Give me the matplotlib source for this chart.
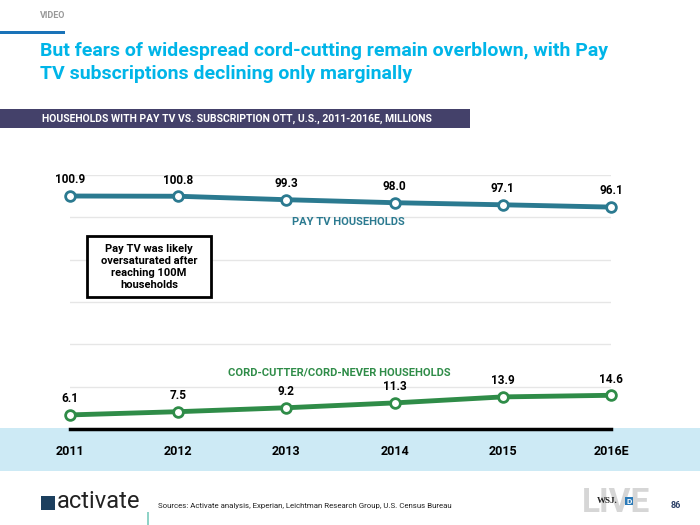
import matplotlib
matplotlib.use("Agg")
import matplotlib.pyplot as plt
import numpy as np
from matplotlib.patches import Rectangle

years = ["2011", "2012", "2013", "2014", "2015", "2016E"]
pay_tv = [100.9, 100.8, 99.3, 98.0, 97.1, 96.1]
cord_cutters = [6.1, 7.5, 9.2, 11.3, 13.9, 14.6]

FONT = ['Roboto', 'DejaVu Sans']
plt.rcParams['font.family'] = FONT

W, H = 700, 525
fig = plt.figure(figsize=(7, 5.25), dpi=100)
fig.patch.set_facecolor('white')

def fx(px):
    return px / W

def fy(py):
    return 1 - py / H

# light blue band behind x labels
fig.patches.append(Rectangle((0, fy(471)), 1, (471 - 428) / H, transform=fig.transFigure,
                             facecolor='#cdeaf5', edgecolor='none', zorder=-2))

# header decorations
fig.text(fx(40), fy(15), "VIDEO", fontsize=6.5, color='#999999', fontweight='bold', va='center')
fig.patches.append(Rectangle((0, fy(34)), fx(65), 3 / H, transform=fig.transFigure,
                             facecolor='#1a73b8', edgecolor='none'))
fig.text(fx(40), fy(51), "But fears of widespread cord-cutting remain overblown, with Pay",
         fontsize=14, color='#00b5e8', fontweight='bold', va='center')
fig.text(fx(40), fy(74), "TV subscriptions declining only marginally",
         fontsize=14, color='#00b5e8', fontweight='bold', va='center')
fig.patches.append(Rectangle((0, fy(128)), fx(470), 19 / H, transform=fig.transFigure,
                             facecolor='#44416a', edgecolor='none'))
fig.text(fx(42), fy(119), "HOUSEHOLDS WITH PAY TV VS. SUBSCRIPTION OTT, U.S., 2011-2016E, MILLIONS",
         fontsize=7.5, color='white', fontweight='bold', va='center')

# chart axes
ax = fig.add_axes([fx(70), fy(429), fx(611) - fx(70), (429 - 175) / H])
ax.set_facecolor('none')
x = np.arange(len(years))
ax.set_xlim(0, len(years) - 1)
ax.set_ylim(0, 110)
ax.set_yticks(np.linspace(0, 110, 7))
ax.yaxis.grid(True, color='#e6e6e6', linewidth=1)
ax.set_axisbelow(True)
for s in ['top', 'right', 'left']:
    ax.spines[s].set_visible(False)
ax.spines['bottom'].set_color('black')
ax.spines['bottom'].set_linewidth(2.5)
ax.tick_params(axis='y', left=False, labelleft=False)
ax.tick_params(axis='x', bottom=False, pad=8)
ax.set_xticks(x)
ax.set_xticklabels(years, fontsize=9, fontweight='bold')

teal = '#2b7a90'
green = '#2f8c48'
ax.plot(x, pay_tv, color=teal, linewidth=3.5, marker='o', markersize=7,
        markerfacecolor='white', markeredgecolor=teal, markeredgewidth=2, clip_on=False, zorder=3)
ax.plot(x, cord_cutters, color=green, linewidth=3.5, marker='o', markersize=7,
        markerfacecolor='white', markeredgecolor=green, markeredgewidth=2, clip_on=False, zorder=3)
for xi, v in zip(x, pay_tv):
    ax.annotate(f"{v:.1f}", (xi, v), xytext=(0, 7), textcoords='offset points',
                ha='center', va='bottom', fontsize=8.5, fontweight='bold')
for xi, v in zip(x, cord_cutters):
    ax.annotate(f"{v:.1f}", (xi, v), xytext=(0, 7), textcoords='offset points',
                ha='center', va='bottom', fontsize=8.5, fontweight='bold')

fig.text(fx(348), fy(222), "PAY TV HOUSEHOLDS", fontsize=8, color=teal,
         fontweight='bold', ha='center', va='center')
fig.text(fx(339), fy(372), "CORD-CUTTER/CORD-NEVER HOUSEHOLDS", fontsize=8, color=green,
         fontweight='bold', ha='center', va='center')

# annotation box
fig.patches.append(Rectangle((fx(87), fy(297)), fx(211) - fx(87), (297 - 236) / H,
                             transform=fig.transFigure, facecolor='white',
                             edgecolor='black', linewidth=2, zorder=5))
fig.text(fx(149), fy(266.5), "Pay TV was likely\noversaturated after\nreaching 100M\nhouseholds",
         fontsize=8, fontweight='bold', ha='center', va='center', linespacing=1.25, zorder=6)

# footer
fig.patches.append(Rectangle((fx(41), fy(510)), fx(14), 14 / H, transform=fig.transFigure,
                             facecolor='#1c3f5e', edgecolor='none'))
fig.text(fx(57), fy(502), "activate", fontsize=17, color='#222222', va='center')
fig.patches.append(Rectangle((fx(146.5), fy(525)), fx(2.5), 13 / H, transform=fig.transFigure,
                             facecolor='#8fd3c7', edgecolor='none'))
fig.text(fx(158), fy(506), "Sources: Activate analysis, Experian, Leichtman Research Group, U.S. Census Bureau",
         fontsize=5.7, color='#222222', va='center')
fig.text(fx(616), fy(503), "LIVE", fontsize=24, color='#d6d6d6', fontweight='bold',
         ha='center', va='center', zorder=1)
fig.text(fx(607), fy(501), "WSJ.", fontsize=6.5, color='#222222', fontweight='bold',
         ha='center', va='center', family=['Liberation Serif', 'DejaVu Serif'], zorder=2)
fig.text(fx(629), fy(501), "D", fontsize=6, color='white', fontweight='bold', ha='center', va='center',
         bbox=dict(boxstyle='square,pad=0.1', facecolor='#2a7ab8', edgecolor='none'), zorder=2)
fig.text(fx(676), fy(506), "86", fontsize=6.5, color='#2b3f66', fontweight='bold', ha='center', va='center')

fig.savefig("out.png", dpi=100, facecolor='white')
